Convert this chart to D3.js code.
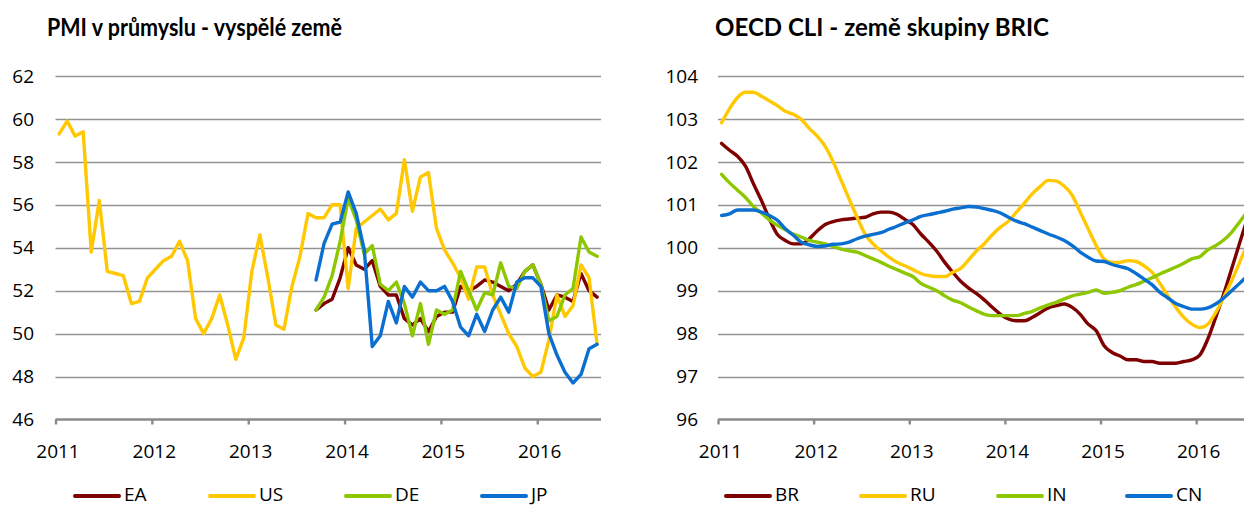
<!DOCTYPE html>
<html>
<head>
<meta charset="utf-8">
<script src="https://cdn.jsdelivr.net/npm/d3@7"></script>
<style>
  html, body { margin: 0; padding: 0; background: #fff; }
  svg { display: block; font-family: "Open Sans", "DejaVu Sans", sans-serif; }
</style>
</head>
<body>
<div class="graphic"></div>
<script>
// ---- data (monthly, index 0 = Jan 2011) ----
var years = [2011, 2012, 2013, 2014, 2015, 2016];

var pmiNames = ["EA", "US", "DE", "JP"];
var pmiTicks = [46, 48, 50, 52, 54, 56, 58, 60, 62];
var pmiUS = [59.3, 59.9, 59.2, 59.4, 53.8, 56.2, 52.9, 52.8, 52.7, 51.4, 51.5, 52.6,
  53.0, 53.4, 53.6, 54.3, 53.4, 50.7, 50.0, 50.7, 51.8, 50.4, 48.8, 49.8,
  52.9, 54.6, 52.6, 50.4, 50.2, 52.2, 53.6, 55.6, 55.4, 55.4, 56.0, 56.0,
  52.1, 54.9, 55.2, 55.5, 55.8, 55.3, 55.6, 58.1, 55.7, 57.3, 57.5, 54.9,
  53.9, 53.3, 52.6, 51.6, 53.1, 53.1, 51.8, 50.9, 50.0, 49.4, 48.4, 48.0,
  48.2, 49.7, 51.8, 50.8, 51.3, 53.2, 52.6, 49.5];
// EA, DE, JP start in Sep 2013 (index 32)
var pmiStart = 32;
var pmiEA = [51.1, 51.4, 51.6, 52.6, 54.0, 53.2, 53.0, 53.4, 52.2, 51.8, 51.8, 50.7,
  50.4, 50.7, 50.1, 50.8, 51.0, 51.0, 52.2, 52.0, 52.2, 52.5, 52.4, 52.2,
  52.0, 52.3, 52.9, 53.2, 52.3, 51.1, 51.8, 51.7, 51.5, 52.8, 52.0, 51.7];
var pmiDE = [51.1, 51.7, 52.7, 54.3, 56.3, 55.3, 53.7, 54.1, 52.3, 52.0, 52.4, 51.4,
  49.9, 51.4, 49.5, 51.1, 50.9, 51.1, 52.9, 52.0, 51.1, 51.9, 51.8, 53.3,
  52.2, 52.1, 52.9, 53.2, 52.3, 50.6, 50.8, 51.8, 52.1, 54.5, 53.8, 53.6];
var pmiJP = [52.5, 54.2, 55.1, 55.2, 56.6, 55.6, 53.9, 49.4, 49.9, 51.5, 50.5, 52.2,
  51.7, 52.4, 52.0, 52.0, 52.2, 51.5, 50.3, 49.9, 50.9, 50.1, 51.1, 51.7,
  51.0, 52.4, 52.6, 52.6, 52.2, 50.0, 49.0, 48.2, 47.7, 48.1, 49.3, 49.5];

var cliNames = ["BR", "RU", "IN", "CN"];
var cliTicks = [96, 97, 98, 99, 100, 101, 102, 103, 104];
var cliBR = [102.43, 102.27, 102.13, 101.90, 101.49, 101.10, 100.67, 100.31, 100.17, 100.09, 100.09, 100.21,
  100.39, 100.54, 100.61, 100.65, 100.67, 100.69, 100.71, 100.79, 100.83, 100.83, 100.78, 100.66,
  100.54, 100.32, 100.13, 99.92, 99.66, 99.43, 99.22, 99.06, 98.93, 98.78, 98.61, 98.45,
  98.34, 98.30, 98.30, 98.38, 98.49, 98.60, 98.65, 98.69, 98.61, 98.45, 98.22, 98.07,
  97.72, 97.56, 97.48, 97.39, 97.39, 97.35, 97.35, 97.31, 97.31, 97.31, 97.35, 97.39,
  97.50, 97.87, 98.38, 98.92, 99.51, 100.11, 100.70];
var cliRU = [102.91, 103.24, 103.50, 103.62, 103.62, 103.53, 103.42, 103.31, 103.18, 103.11, 102.99, 102.78,
  102.60, 102.36, 102.00, 101.57, 101.14, 100.71, 100.32, 100.09, 99.93, 99.78, 99.66, 99.58,
  99.49, 99.40, 99.35, 99.33, 99.33, 99.43, 99.52, 99.72, 99.93, 100.10, 100.31, 100.48,
  100.62, 100.83, 101.04, 101.26, 101.43, 101.57, 101.55, 101.43, 101.22, 100.83, 100.44, 100.05,
  99.74, 99.66, 99.66, 99.70, 99.68, 99.58, 99.43, 99.17, 98.88, 98.61, 98.38, 98.22,
  98.14, 98.22, 98.49, 98.84, 99.23, 99.66, 100.10];
var cliIN = [101.71, 101.51, 101.34, 101.17, 100.96, 100.81, 100.65, 100.52, 100.42, 100.32, 100.25, 100.17,
  100.13, 100.09, 100.03, 99.97, 99.93, 99.90, 99.82, 99.74, 99.66, 99.57, 99.49, 99.41,
  99.33, 99.17, 99.08, 99.00, 98.88, 98.78, 98.72, 98.62, 98.53, 98.45, 98.42, 98.42,
  98.42, 98.42, 98.47, 98.52, 98.60, 98.67, 98.73, 98.81, 98.88, 98.92, 98.96, 99.02,
  98.94, 98.96, 99.00, 99.08, 99.14, 99.22, 99.30, 99.39, 99.47, 99.55, 99.64, 99.74,
  99.79, 99.95, 100.05, 100.18, 100.36, 100.60, 100.85];
var cliCN = [100.75, 100.79, 100.88, 100.88, 100.88, 100.83, 100.75, 100.64, 100.44, 100.29, 100.13, 100.07,
  100.03, 100.04, 100.08, 100.09, 100.13, 100.21, 100.27, 100.31, 100.35, 100.43, 100.50, 100.58,
  100.65, 100.73, 100.77, 100.81, 100.85, 100.90, 100.93, 100.96, 100.95, 100.91, 100.87, 100.81,
  100.71, 100.62, 100.56, 100.48, 100.40, 100.32, 100.25, 100.17, 100.05, 99.90, 99.78, 99.69,
  99.68, 99.61, 99.56, 99.51, 99.40, 99.27, 99.14, 98.96, 98.83, 98.70, 98.63, 98.57,
  98.57, 98.60, 98.69, 98.83, 99.00, 99.17, 99.35];

var colors = ["#7f0000", "#ffc800", "#8dc700", "#0a6fd0"];

function toPoints(values, start) {
  return values.map(function(v, i) { return { m: start + i, v: v }; });
}

var svg = d3.select(".graphic").append("svg")
  .attr("width", 1244)
  .attr("height", 507);

function drawChart(o) {
  var g = svg.append("g");

  var x = d3.scaleLinear().domain([0, o.months]).range([o.left, o.right]);
  var y = d3.scaleLinear().domain(o.yDomain).range([419.5, 76]);

  // title
  g.append("text")
    .attr("x", o.titleX)
    .attr("y", 36)
    .attr("textLength", o.titleW)
    .attr("lengthAdjust", "spacingAndGlyphs")
    .style("font-family", "Lato, 'Open Sans', sans-serif")
    .style("font-size", "24px")
    .style("font-weight", "700")
    .text(o.title);

  // gridlines
  g.append("g").selectAll("line")
    .data(o.yTicks.slice(1))
    .join("line")
    .attr("x1", o.left)
    .attr("x2", o.gridRight)
    .attr("y1", function(d) { return Math.round(y(d)) + 0.5; })
    .attr("y2", function(d) { return Math.round(y(d)) + 0.5; })
    .attr("stroke", "#939393")
    .attr("stroke-width", 1.7);

  // y labels
  g.append("g").selectAll("text")
    .data(o.yTicks)
    .join("text")
    .attr("x", o.labelX)
    .attr("y", function(d) { return y(d); })
    .attr("dy", "0.35em")
    .attr("text-anchor", "end")
    .style("font-size", "19px")
    .text(function(d) { return d; });

  // x axis
  var xAxis = d3.axisBottom(x)
    .tickValues(years.map(function(yr) { return (yr - 2011) * 12; }))
    .tickSize(5)
    .tickSizeOuter(0)
    .tickFormat(function(d) { return 2011 + d / 12; });

  var ax = g.append("g")
    .attr("transform", "translate(0," + 419.5 + ")")
    .call(xAxis);
  ax.select(".domain").attr("d", "M" + o.left + ",0H" + o.gridRight)
    .attr("stroke", "#8a8a8a").attr("stroke-width", 2.6);
  ax.selectAll(".tick line").attr("stroke", "#8a8a8a").attr("stroke-width", 2.4);
  ax.selectAll(".tick text")
    .attr("y", 32)
    .attr("dy", "0.35em")
    .attr("dx", 2)
    .attr("fill", "#000")
    .style("font-size", "19px")
    .style("font-family", "'Open Sans', sans-serif");

  // series
  var line = d3.line()
    .x(function(d) { return x(d.m + 0.45); })
    .y(function(d) { return y(d.v); })
    .curve(o.curve);

  g.append("g").selectAll("path")
    .data(o.series)
    .join("path")
    .attr("d", function(d) { return line(d.points); })
    .attr("fill", "none")
    .attr("stroke", function(d) { return d.color; })
    .attr("stroke-width", 3.4)
    .attr("stroke-linejoin", "round")
    .attr("stroke-linecap", "round");

  // legend
  var leg = g.append("g").selectAll("g")
    .data(o.series)
    .join("g")
    .attr("transform", function(d, i) { return "translate(" + o.legendX[i] + ",496)"; });
  leg.append("line")
    .attr("x1", 0).attr("x2", 44)
    .attr("stroke", function(d) { return d.color; })
    .attr("stroke-width", 4)
    .attr("stroke-linecap", "round");
  leg.append("text")
    .attr("x", 49)
    .attr("y", 5)
    .style("font-size", "19px")
    .text(function(d) { return d.name; });
}

drawChart({
  title: "PMI v průmyslu - vyspělé země",
  titleX: 47, titleW: 295,
  left: 55.5, right: 601.5, gridRight: 601, months: 68,
  labelX: 34,
  yDomain: [46, 62], yTicks: pmiTicks,
  curve: d3.curveLinear,
  legendX: [75, 210, 346, 482],
  series: [
    { name: pmiNames[0], color: colors[0], points: toPoints(pmiEA, pmiStart) },
    { name: pmiNames[1], color: colors[1], points: toPoints(pmiUS, 0) },
    { name: pmiNames[2], color: colors[2], points: toPoints(pmiDE, pmiStart) },
    { name: pmiNames[3], color: colors[3], points: toPoints(pmiJP, pmiStart) }
  ]
});

drawChart({
  title: "OECD CLI - země skupiny BRIC",
  titleX: 715, titleW: 334,
  left: 718, right: 1244, gridRight: 1244, months: 66,
  labelX: 698,
  yDomain: [96, 104], yTicks: cliTicks,
  curve: d3.curveMonotoneX,
  legendX: [726, 861, 998, 1127],
  series: [
    { name: cliNames[0], color: colors[0], points: toPoints(cliBR, 0) },
    { name: cliNames[1], color: colors[1], points: toPoints(cliRU, 0) },
    { name: cliNames[2], color: colors[2], points: toPoints(cliIN, 0) },
    { name: cliNames[3], color: colors[3], points: toPoints(cliCN, 0) }
  ]
});
</script>
</body>
</html>
